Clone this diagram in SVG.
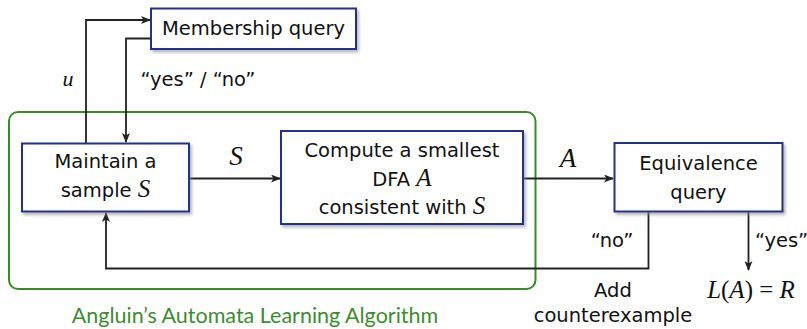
<svg xmlns="http://www.w3.org/2000/svg" width="807" height="329" viewBox="0 0 807 329">
<style>
.box{fill:#fff;stroke:#24308a;stroke-width:2;filter:url(#sh)}
.t{font-family:"DejaVu Sans",sans-serif;font-size:19.5px;fill:#111;text-anchor:middle}
.m{font-family:"Liberation Serif",serif;font-style:italic;fill:#111}
.c{fill:none;stroke:#222;stroke-width:1.8;marker-end:url(#ar)}
</style>
<defs>
<filter id="sh" x="-10%" y="-10%" width="130%" height="140%">
<feDropShadow dx="2" dy="2.5" stdDeviation="1.5" flood-color="#888" flood-opacity="0.6"/>
</filter>
<marker id="ar" viewBox="0 0 10 8" refX="9" refY="4" markerWidth="10" markerHeight="8" markerUnits="userSpaceOnUse" orient="auto">
<path d="M0,0 L10,4 L0,8 L2.5,4 Z" fill="#222"/>
</marker>
</defs>
<g id="frame">
<rect x="9" y="112" width="526.5" height="177" rx="9" fill="none" stroke="#3a8a2a" stroke-width="2"/>
<text x="255" y="323" font-family="Lato,'Open Sans',sans-serif" font-size="21.5" fill="#3c8c30" text-anchor="middle">Angluin’s Automata Learning Algorithm</text>
</g>
<g id="connectors">
<path class="c" d="M86,143 V20 H150"/>
<path class="c" d="M151,38.5 H126 V142"/>
<path class="c" d="M189,178.5 H280"/>
<path class="c" d="M523,178.5 H613"/>
<path class="c" d="M648.5,212 V268.5 H106 V213"/>
<path class="c" d="M748.5,212 V270"/>
<text class="m" x="68" y="86" font-size="22" text-anchor="middle">u</text>
<text class="t" x="198" y="86">“yes” / “no”</text>
<text class="m" x="236" y="165" font-size="27" text-anchor="middle">S</text>
<text class="m" x="568" y="167" font-size="27" text-anchor="middle">A</text>
<text class="t" x="612" y="247">“no”</text>
<text class="t" x="755" y="247" font-size="17.5" style="text-anchor:start">“yes”</text>
<text class="t" x="613" y="297">Add</text>
<text class="t" x="613" y="322">counterexample</text>
<text x="751" y="298" font-family="Liberation Serif,serif" font-size="25" fill="#111" text-anchor="middle"><tspan font-style="italic">L</tspan>(<tspan font-style="italic">A</tspan>) = <tspan font-style="italic">R</tspan></text>
</g>
<g id="membership">
<rect class="box" x="151" y="8.5" width="205" height="40.5"/>
<text class="t" x="253.5" y="35">Membership query</text>
</g>
<g id="maintain">
<rect class="box" x="22" y="143.5" width="167" height="68"/>
<text class="t" x="105.5" y="168">Maintain a</text>
<text class="t" x="105.5" y="197">sample <tspan class="m" font-size="25">S</tspan></text>
</g>
<g id="compute">
<rect class="box" x="281" y="131" width="242" height="93"/>
<text class="t" x="402" y="157">Compute a smallest</text>
<text class="t" x="402" y="186">DFA <tspan class="m" font-size="25">A</tspan></text>
<text class="t" x="402" y="214">consistent with <tspan class="m" font-size="25">S</tspan></text>
</g>
<g id="equivalence">
<rect class="box" x="614.5" y="143" width="168" height="68.5"/>
<text class="t" x="698.5" y="170">Equivalence</text>
<text class="t" x="698.5" y="199">query</text>
</g>
</svg>
